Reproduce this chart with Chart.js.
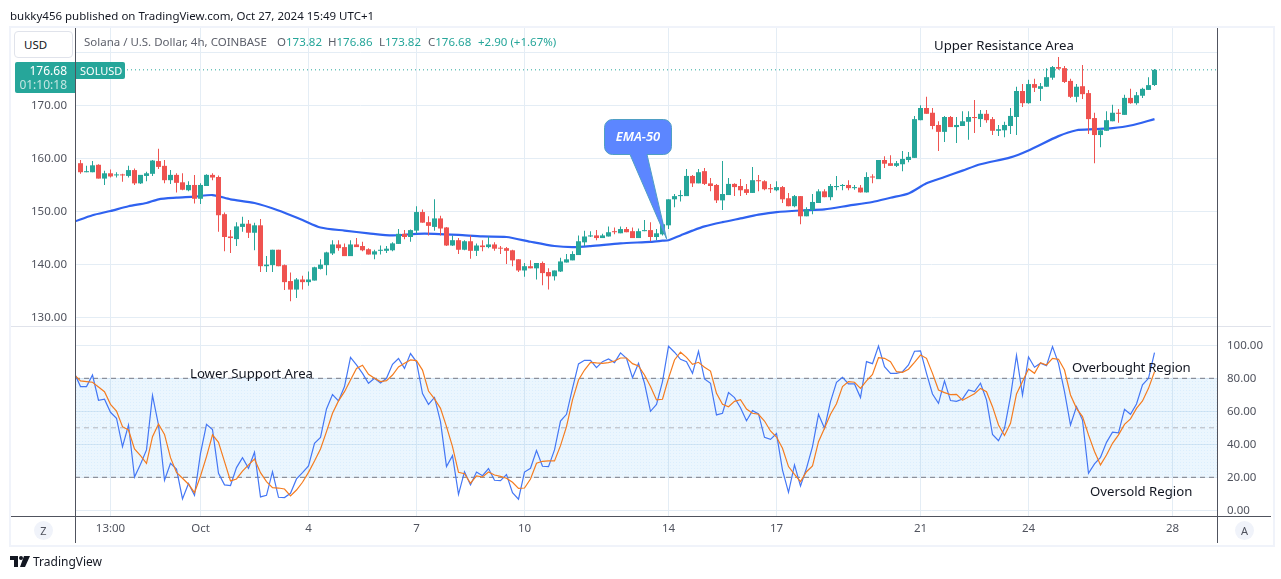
<!DOCTYPE html>
<html>
<head>
<meta charset="utf-8">
<title>SOLUSD</title>
<script src="https://cdn.jsdelivr.net/npm/chart.js@4"></script>
<style>
html, body { margin: 0; padding: 0; background: #fff; }
body { width: 1281px; height: 579px; position: relative; overflow: hidden; font-family: "Noto Sans", sans-serif; color: #131722; }
canvas { position: absolute; left: 0; }
#priceCanvas { top: 0; }
#stochCanvas { top: 326px; }
.abs { position: absolute; white-space: nowrap; }
.line { position: absolute; }
.note { position: absolute; white-space: nowrap; font-size: 13.2px; line-height: 18px; color: #131722; }
.hdr { position: absolute; top: 34px; font-size: 11.5px; line-height: 16px; color: #5d606b; white-space: nowrap; }
.hdr b { font-weight: 400; color: #26a69a; }
.round { position: absolute; width: 19px; height: 19px; border-radius: 50%; background: #f0f3fa; color: #50535e; font-size: 11px; line-height: 19px; text-align: center; }
</style>
</head>
<body>
<canvas id="priceCanvas" width="1281" height="326"></canvas>
<canvas id="stochCanvas" width="1281" height="219"></canvas>

<!-- frame -->
<div class="line" style="left:9px;top:26px;width:1262px;height:517px;border:2px solid #f0f3fa;"></div>
<div class="line" style="left:11px;top:326px;width:1260px;height:1px;background:#e0e3eb;"></div>
<div class="line" style="left:11px;top:516px;width:1260px;height:1px;background:#50535e;"></div>
<div class="line" style="left:75px;top:28px;width:1px;height:515px;background:#50535e;"></div>
<div class="line" style="left:1217px;top:28px;width:1px;height:515px;background:#50535e;"></div>

<div class="abs" style="left:10px;top:7px;font-size:11.5px;line-height:17px;">bukky456 published on TradingView.com, Oct 27, 2024 15:49 UTC+1</div>

<div class="abs" style="left:14px;top:31px;width:57px;height:25px;border:1px solid #e0e3eb;border-radius:4px;background:#fff;font-size:11.5px;line-height:25px;text-indent:9px;">USD</div>
<div class="abs" style="left:15px;top:62px;width:60px;height:31px;background:#26a69a;border-radius:2px 0 0 2px;"></div>
<div class="abs" style="left:15px;top:62px;width:52px;text-align:right;color:#fff;font-size:12px;line-height:17px;">176.68</div>
<div class="abs" style="left:15px;top:76px;width:52px;text-align:right;color:#c4e6e2;font-size:12px;line-height:17px;">01:10:18</div>
<div class="abs" style="left:76px;top:62px;width:49px;height:17px;background:#26a69a;border-radius:0 2px 2px 0;color:#fff;font-size:11px;line-height:17px;text-indent:4px;">SOLUSD</div>

<div class="hdr" style="left:84px;">Solana / U.S. Dollar, 4h, COINBASE</div>
<div class="hdr" style="left:277px;">O<b>173.82</b></div>
<div class="hdr" style="left:328px;">H<b>176.86</b></div>
<div class="hdr" style="left:379px;">L<b>173.82</b></div>
<div class="hdr" style="left:428px;">C<b>176.68</b></div>
<div class="hdr" style="left:478px;"><b>+2.90 (+1.67%)</b></div>

<div class="note" style="left:934px;top:36px;">Upper Resistance Area</div>
<div class="note" style="left:190px;top:364px;">Lower Support Area</div>
<div class="note" style="left:1072px;top:358px;letter-spacing:-0.2px;">Overbought Region</div>
<div class="note" style="left:1090px;top:482px;">Oversold Region</div>
<div class="abs" style="left:604px;top:127px;width:68px;text-align:center;color:#fff;font-size:13px;line-height:18px;font-style:italic;font-weight:600;">EMA-50</div>

<div class="round" style="left:34px;top:521px;">Z</div>
<div class="round" style="left:1235px;top:521px;">A</div>

<svg class="abs" style="left:10px;top:556px;" width="20" height="12" viewBox="0 0 20 12">
  <path d="M0 0H8V11H4V4H0Z" fill="#131722"/>
  <circle cx="11" cy="2" r="2" fill="#131722"/>
  <path d="M14 0H20L15 11H10Z" fill="#131722"/>
</svg>
<div class="abs" style="left:33px;top:552px;font-size:12px;line-height:19px;">TradingView</div>

<script>
// price candles
var candleOpen = [
    159.1,157.4,157.4,158.8,156.2,157.2,156.8,156.9,156.7,157.8,
    155.3,156.7,157.1,159.5,158.6,155.9,156.9,155.5,154.0,155.0,
    152.4,154.8,156.9,156.5,149.5,145.3,144.8,147.1,147.7,146.0,
    147.4,139.7,139.9,142.8,139.9,136.9,135.3,137.2,136.7,137.0,
    139.2,139.9,142.1,143.8,143.3,141.6,143.8,143.5,142.9,141.9,
    142.6,142.6,142.7,143.9,145.8,145.2,146.4,149.9,148.0,147.1,
    148.7,147.0,143.6,144.6,142.8,144.4,142.6,143.6,143.3,143.8,
    143.1,143.1,142.7,141.0,138.9,139.7,139.3,140.3,138.6,137.8,
    138.7,140.4,140.8,141.8,144.2,145.3,145.5,145.0,145.3,146.3,
    145.9,146.7,146.3,145.0,146.3,146.5,145.2,145.7,147.4,152.3,
    152.9,152.9,156.7,155.3,157.6,155.3,155.0,152.1,153.1,155.2,
    154.8,154.2,153.5,155.9,155.7,154.4,154.0,154.6,152.5,151.0,
    152.9,149.1,150.3,151.6,153.8,152.7,154.6,154.8,155.0,154.4,
    154.5,153.6,156.6,156.1,159.7,159.1,158.6,158.9,159.7,160.1,
    167.2,169.5,168.6,166.3,165.0,167.8,165.9,166.1,166.9,167.8,
    167.4,168.4,167.4,165.2,165.3,166.1,167.8,172.7,170.4,174.0,
    173.1,173.5,175.2,177.2,177.0,174.6,171.6,173.6,172.3,167.6,
    164.4,165.2,167.0,168.6,168.2,171.4,170.4,171.8,172.9,173.82
];
var candleClose = [
    157.4,157.6,158.7,156.2,157.2,156.6,156.9,156.8,157.8,155.3,
    156.9,157.2,159.6,158.4,155.9,156.9,155.4,154.1,155.0,152.4,
    155.0,156.9,156.4,149.3,145.2,145.0,147.2,147.7,146.0,147.4,
    139.7,140.0,142.8,139.7,136.7,135.3,137.2,136.7,137.2,139.5,
    140.0,142.3,143.8,143.1,141.6,143.8,143.3,142.7,141.9,142.5,
    142.8,143.0,144.0,145.8,145.2,146.5,149.9,147.9,147.3,148.7,
    146.8,143.6,144.6,142.8,144.4,142.6,143.6,143.3,143.8,143.0,
    143.0,142.6,140.8,138.9,139.7,139.3,140.3,138.4,137.8,138.9,
    140.6,141.0,142.0,144.4,145.3,145.5,145.0,145.5,146.1,146.1,
    146.7,146.1,145.0,146.3,146.5,145.2,145.9,147.6,152.3,152.9,
    153.1,156.7,155.3,157.4,155.2,154.8,152.1,153.3,155.2,154.6,
    154.0,153.5,155.9,155.7,154.2,154.2,154.6,152.3,151.0,152.9,
    149.1,150.4,151.8,153.8,152.7,154.8,154.8,155.0,154.4,154.6,
    153.6,156.5,156.4,159.7,159.0,158.6,159.1,159.9,160.3,167.4,
    169.5,168.4,166.1,165.0,167.8,165.9,166.3,167.0,167.8,167.6,
    168.4,167.2,165.2,165.5,166.3,168.0,172.7,170.4,174.0,173.3,
    173.6,175.3,177.2,176.9,174.4,171.6,173.5,172.1,167.4,164.4,
    165.3,167.2,168.6,168.4,171.4,170.4,171.9,173.1,173.8,176.68
];
var candleHigh = [
    159.7,158.6,159.5,158.9,157.7,157.9,157.4,157.1,158.6,158.1,
    156.9,157.5,159.7,161.8,159.7,157.8,157.2,157.2,155.7,156.9,
    155.3,157.0,157.2,156.8,149.8,146.5,148.0,149.0,148.4,147.9,
    148.6,141.6,142.8,142.8,140.0,138.5,137.5,137.9,138.7,139.6,
    141.0,142.4,144.6,144.6,144.0,144.6,145.0,144.3,143.1,142.8,
    143.6,143.5,144.2,146.7,146.5,146.6,151.0,150.4,149.1,152.3,
    149.2,147.1,145.5,145.0,144.6,145.5,144.0,144.6,145.3,144.2,
    143.5,143.3,142.8,141.0,140.3,140.8,140.3,140.6,139.3,138.9,
    141.3,142.0,142.5,145.5,146.4,146.3,146.5,145.8,147.2,147.0,
    147.2,147.1,147.0,146.8,148.4,148.0,146.7,148.2,152.3,153.3,
    154.0,158.0,156.9,158.0,158.2,156.3,155.2,159.5,156.3,155.3,
    156.1,155.2,158.4,156.9,155.9,155.2,155.7,154.8,153.5,153.1,
    152.9,150.8,153.3,154.2,154.2,155.2,156.7,155.2,155.9,155.0,
    155.0,157.4,157.0,159.7,160.4,160.6,159.5,161.4,161.2,168.0,
    170.0,171.6,169.5,167.0,168.0,168.0,167.8,168.9,168.9,171.0,
    169.1,169.1,167.8,166.3,166.9,169.5,173.5,174.0,174.8,175.0,
    174.2,177.0,177.4,179.1,177.4,175.0,174.0,177.6,172.9,168.6,
    165.7,168.9,170.1,169.3,172.0,173.1,172.5,173.3,175.3,176.86
];
var candleLow = [
    157.1,157.4,157.4,156.2,155.0,156.4,156.4,155.6,156.4,155.0,
    155.2,155.7,156.7,158.0,155.3,155.2,153.6,154.0,153.8,151.5,
    151.4,154.8,155.9,146.2,142.5,142.2,143.5,146.2,145.0,142.7,
    138.6,138.6,138.6,139.7,135.2,133.1,133.7,135.3,136.0,137.0,
    139.1,138.0,141.8,142.6,141.6,141.6,143.3,142.5,141.9,141.0,
    141.9,142.2,142.5,143.9,144.8,144.3,145.8,147.9,145.5,146.4,
    145.5,143.5,143.5,142.0,142.7,141.1,141.6,142.5,143.1,142.6,
    142.0,140.1,139.7,138.6,137.7,139.3,137.2,136.1,135.3,137.0,
    138.6,140.4,140.8,141.8,143.5,145.2,144.6,145.0,145.3,145.7,
    145.9,146.1,145.0,145.0,146.3,144.4,144.6,145.5,146.7,150.8,
    151.9,152.9,154.6,155.3,155.0,153.8,151.6,150.3,153.1,152.9,
    152.9,153.1,153.5,153.8,154.0,153.5,153.8,151.6,151.0,150.8,
    147.6,149.1,149.5,151.6,152.7,152.1,154.0,154.0,154.0,154.1,
    153.6,153.6,155.3,156.1,158.2,158.6,158.4,157.6,159.3,160.1,
    167.2,168.4,165.5,161.4,163.1,165.9,162.9,166.1,163.5,164.8,
    165.9,166.7,164.4,164.2,164.0,164.6,164.4,169.7,170.3,172.5,
    170.8,173.5,174.8,176.7,174.2,171.4,170.6,171.2,164.6,159.1,
    162.1,165.2,167.0,166.7,168.2,170.3,170.1,171.4,172.9,173.65
];

// EMA-50, read at the bars where the line can be followed best
var emaBars = [-1,2,5,8,11,13,16,19,22,25,29,33,37,40,44,48,52,56,59,63,67,71,75,79,82,85,90,95,97,98,100,102,104,107,110,113,116,120,124,128,132,135,138,141,144,147,150,155,158,163,166,169,172,175,179];
var emaValues = [148.1,149.3,150.1,151.0,151.6,152.3,152.6,152.8,153.1,152.3,151.6,150.2,148.4,147.0,146.4,145.9,145.5,145.8,145.8,145.6,145.3,145.2,144.3,143.5,143.3,143.5,144.0,144.3,144.5,144.6,145.5,146.4,147.2,148.0,148.7,149.4,149.9,150.2,150.4,151.1,151.8,152.6,153.4,155.3,156.5,157.7,158.9,160.2,161.5,164.2,165.3,165.5,165.7,166.2,167.4];

// stochastic pane, first value sits one bar before the first candle
var stochK = [
    83,
    75,75,82,66.7,67.3,59.4,55.8,38.6,51.7,20.2,
    27.9,36.6,69.7,51.7,18.2,28.5,25,6.9,16.2,9.1,
    34.5,52.1,48.9,22.4,15.4,15,25.9,31.9,25.5,35.2,
    8.1,9.1,23.4,7.9,7.7,10.3,19,22.8,26.9,40.6,
    44.2,61.4,70.1,66.3,75,92.7,88.1,83,77,80,
    77.2,80,88.5,92,86,95,90,70.7,64.2,68.4,
    53.7,26.5,33.1,9.7,23.4,15.4,23.2,21,25.3,18.2,
    18,21.6,10.7,6.7,23.2,25.5,36.2,26.7,26.5,36.6,
    54.1,58.2,73.9,88.7,90.9,90.9,86.5,90.1,91.7,89.5,
    95.4,92.1,80.4,89.1,77,60,64.2,78,99.4,95.8,
    91.5,90.1,83,96.4,79.6,77,57.8,58.8,71.3,68.3,
    62.2,54.3,60.4,58.4,44.2,43,46.5,24.4,10.9,27.5,
    14.7,25.5,38.6,58.2,49.7,65.9,77.6,80.6,76.6,76.6,
    68.3,90.1,88.9,99.6,87.1,83,83,84,88.1,96.4,
    96.6,83,70.5,64.8,78.4,66.5,66,67.5,72.9,71.9,
    77,66.9,46,42.2,49.7,68.9,93.9,69.9,92.9,86.7,
    89.1,87.7,99.2,89.1,71.9,51.7,62.8,54.7,22.4,28.1,
    32.1,41.2,47.3,46.9,61.2,58.2,64.4,76,80,95.6
];
var stochD = [
    82,
    78.4,78,77.6,74.7,71.9,64.2,60.2,50.7,48.7,37.2,
    33.1,28.5,44.6,52.3,46,31.9,23,19.4,15.8,10.7,
    20.8,32.5,45.7,41.2,29.5,17.8,19,23.8,27.5,31.1,
    22.8,17.4,13.7,13.5,12.9,8.7,12.3,17,23,29.9,
    37.2,47.7,58.8,66.3,71.9,79,86,87.9,82.4,80,
    78,78.6,82,86.9,89.1,91.1,90.7,85,72.3,67.5,
    61.8,50.7,38.6,23,22.2,16.4,20.8,20.2,23.2,21.4,
    20.6,19.4,17,13.3,13.5,19,28.5,29.7,29.9,29.9,
    39.2,50.7,66.9,79,85,89.7,89.3,89.1,89.5,90.5,
    92.3,92.3,88.9,87.5,82,75,66.9,67.3,80,91.1,
    95.8,92.7,88.5,89.7,86.7,84.4,70.9,64.2,62.8,66,
    67,61.4,58.8,58.2,54.1,48.1,44.4,37.6,26.5,21.8,
    17.4,23.4,26.9,41.6,49.7,58.2,64.6,75,78,77.6,
    73.9,78.4,82.4,92.5,92.1,90.1,84,83.6,85.5,89.7,
    94.1,92.1,83,72.9,71.3,70.1,70.3,66.7,68.7,70.7,
    73.9,71.9,62.8,51.7,45.3,52.7,70.5,78,85.7,83,
    89.5,88.1,92.1,91.5,85,69.9,61.8,56.8,45.7,35.6,
    27.5,33.5,40.6,45.7,52.1,55.4,61.8,66.3,73.9,84
];

var lastPrice = 176.68;
var priceTicks = [130, 140, 150, 160, 170, 180];
var stochTicks = [0, 20, 40, 60, 80, 100];
var stochBandTop = 80;
var stochBandMiddle = 50;
var stochBandBottom = 20;
var timeTickBars = [5, 20, 38, 56, 74, 98, 116, 140, 158, 182];
var timeTickLabels = ['13:00', 'Oct', '4', '7', '10', '14', '17', '21', '24', '28'];

// callout points at the EMA at this bar and price
var calloutBar = 97.7;
var calloutPrice = 144.8;

var upColor = '#26a69a';
var downColor = '#ef5350';
var gridColor = '#e4edf5';
var axisFont = { family: '"Noto Sans", sans-serif', size: 11.5 };
var axisColor = '#50535e';

// 6 px per bar, first candle centred on x=80.5
var xMin = -5.5 / 6;
var xMax = xMin + 1142 / 6;

var candleColors = candleClose.map(function(c, i) {
    return c >= candleOpen[i] ? upColor : downColor;
});

function horizontal(value) {
    return [{ x: xMin, y: value }, { x: xMax, y: value }];
}

// layout always adds half a label of padding, the panes must touch exactly
function noPadding(scale) {
    scale.paddingTop = 0;
    scale.paddingBottom = 0;
    scale.paddingLeft = 0;
    scale.paddingRight = 0;
}

function timeScale(showLabels) {
    return {
        type: 'linear',
        min: xMin,
        max: xMax,
        offset: false,
        display: true,
        border: { display: false },
        grid: { color: gridColor, drawTicks: false, offset: false },
        ticks: {
            display: showLabels,
            autoSkip: false,
            maxRotation: 0,
            padding: 6,
            color: axisColor,
            font: axisFont,
            callback: function(value) {
                var idx = timeTickBars.indexOf(value);
                return idx < 0 ? '' : timeTickLabels[idx];
            }
        },
        afterBuildTicks: function(scale) {
            scale.ticks = timeTickBars.map(function(v) { return { value: v }; });
        },
        afterFit: function(scale) {
            scale.height = showLabels ? 29 : 0;
            noPadding(scale);
        }
    };
}

// Speech bubble over the EMA line
var calloutPlugin = {
    id: 'callout',
    afterDatasetsDraw: function(chart) {
        var ctx = chart.ctx;
        var tipX = chart.scales.x.getPixelForValue(calloutBar);
        var tipY = chart.scales.y.getPixelForValue(calloutPrice);
        var l = 604.5, r = 671.5, t = 119.5, b = 154.5, rad = 8;
        ctx.save();
        ctx.beginPath();
        ctx.moveTo(l + rad, t);
        ctx.lineTo(r - rad, t);
        ctx.arcTo(r, t, r, t + rad, rad);
        ctx.lineTo(r, b - rad);
        ctx.arcTo(r, b, r - rad, b, rad);
        ctx.lineTo(647, b);
        ctx.lineTo(tipX, tipY);
        ctx.lineTo(630, b);
        ctx.lineTo(l + rad, b);
        ctx.arcTo(l, b, l, b - rad, rad);
        ctx.lineTo(l, t + rad);
        ctx.arcTo(l, t, l + rad, t, rad);
        ctx.closePath();
        ctx.fillStyle = '#5c86ff';
        ctx.fill();
        ctx.lineWidth = 1;
        ctx.strokeStyle = '#4f9fc4';
        ctx.stroke();
        ctx.restore();
    }
};

new Chart(document.getElementById('priceCanvas'), {
    type: 'bar',
    plugins: [calloutPlugin],
    data: {
        datasets: [
            {
                type: 'bar',
                order: 1,
                grouped: false,
                barThickness: 5,
                minBarLength: 1,
                inflateAmount: 0,
                borderWidth: 0,
                backgroundColor: candleColors,
                data: candleOpen.map(function(o, i) { return { x: i, y: [o, candleClose[i]] }; })
            },
            {
                type: 'bar',
                order: 2,
                grouped: false,
                barThickness: 1,
                inflateAmount: 0,
                borderWidth: 0,
                backgroundColor: candleColors,
                data: candleLow.map(function(l, i) { return { x: i, y: [l, candleHigh[i]] }; })
            },
            {
                type: 'line',
                order: 3,
                borderColor: '#2f62f0',
                borderWidth: 2.2,
                pointRadius: 0,
                tension: 0.25,
                data: emaBars.map(function(b, i) { return { x: b, y: emaValues[i] }; })
            },
            {
                type: 'line',
                order: 4,
                borderColor: upColor,
                borderWidth: 1,
                borderDash: [1, 3],
                pointRadius: 0,
                data: horizontal(lastPrice)
            }
        ]
    },
    options: {
        responsive: false,
        animation: false,
        devicePixelRatio: 1,
        layout: { autoPadding: false, padding: { top: 28, right: 64, left: 0, bottom: 0 } },
        plugins: { legend: { display: false }, tooltip: { enabled: false } },
        scales: {
            x: timeScale(false),
            y: {
                position: 'left',
                min: 128.44,
                max: 184.56,
                border: { display: false },
                grid: { color: gridColor, drawTicks: false },
                ticks: {
                    padding: 8,
                    color: axisColor,
                    font: axisFont,
                    callback: function(value) {
                        return value === 180 ? '' : value.toFixed(2);
                    }
                },
                afterBuildTicks: function(scale) {
                    scale.ticks = priceTicks.map(function(v) { return { value: v }; });
                },
                afterFit: function(scale) {
                    scale.width = 75;
                    noPadding(scale);
                }
            }
        }
    }
});

// Faint dotted fill of the stochastic band
function bandPattern() {
    var tile = document.createElement('canvas');
    tile.width = 3;
    tile.height = 3;
    var c = tile.getContext('2d');
    c.fillStyle = 'rgba(33,150,243,0.09)';
    c.fillRect(0, 0, 3, 3);
    c.fillStyle = 'rgba(33,150,243,0.08)';
    c.fillRect(1, 1, 1, 1);
    return c.createPattern(tile, 'repeat');
}

function levelLine(value, color) {
    return {
        type: 'line',
        order: 3,
        borderColor: color,
        borderWidth: 1,
        borderDash: [5, 4],
        pointRadius: 0,
        data: horizontal(value)
    };
}

new Chart(document.getElementById('stochCanvas'), {
    type: 'line',
    data: {
        datasets: [
            {
                order: 4,
                borderWidth: 0,
                pointRadius: 0,
                backgroundColor: bandPattern(),
                fill: { value: stochBandBottom },
                data: horizontal(stochBandTop)
            },
            levelLine(stochBandTop, '#787b86'),
            levelLine(stochBandMiddle, '#b2b5be'),
            levelLine(stochBandBottom, '#787b86'),
            {
                order: 2,
                borderColor: '#4477f5',
                borderWidth: 1.2,
                pointRadius: 0,
                tension: 0,
                data: stochK.map(function(v, i) { return { x: i - 1, y: v }; })
            },
            {
                order: 1,
                borderColor: '#f57c1f',
                borderWidth: 1.2,
                pointRadius: 0,
                tension: 0,
                data: stochD.map(function(v, i) { return { x: i - 1, y: v }; })
            }
        ]
    },
    options: {
        responsive: false,
        animation: false,
        devicePixelRatio: 1,
        layout: { autoPadding: false, padding: { top: 0, right: 0, left: 75, bottom: 0 } },
        plugins: { legend: { display: false }, tooltip: { enabled: false } },
        scales: {
            x: timeScale(true),
            y: {
                position: 'right',
                min: -3.45,
                max: 111.7,
                border: { display: false },
                grid: { color: gridColor, drawTicks: false },
                ticks: {
                    padding: 10,
                    color: axisColor,
                    font: axisFont,
                    callback: function(value) { return value.toFixed(2); }
                },
                afterBuildTicks: function(scale) {
                    scale.ticks = stochTicks.map(function(v) { return { value: v }; });
                },
                afterFit: function(scale) {
                    scale.width = 64;
                    noPadding(scale);
                }
            }
        }
    }
});
</script>
</body>
</html>
